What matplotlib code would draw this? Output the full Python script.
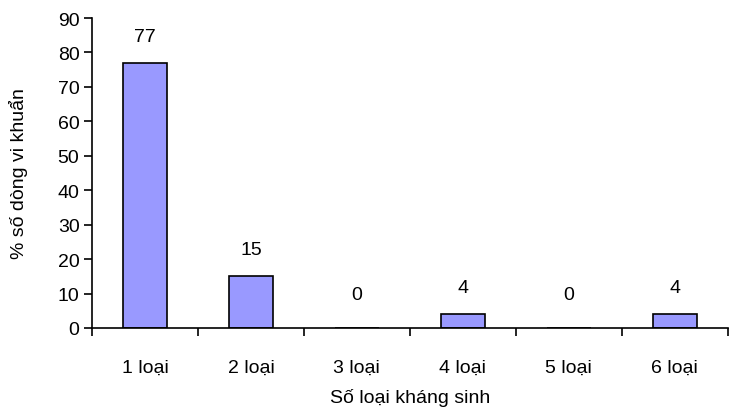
import matplotlib.pyplot as plt
import numpy as np

plt.rcParams['font.family'] = ['Liberation Sans', 'DejaVu Sans']

categories = ['1 loại', '2 loại', '3 loại', '4 loại', '5 loại', '6 loại']
percent = [77, 15, 0, 4, 0, 4]

x = np.arange(len(categories))
fs = 14

fig = plt.figure(figsize=(7.3, 4.1), dpi=100)
ax = fig.add_axes([0.126, 0.1976, 0.871, 0.756])

bars = ax.bar(x, percent, width=0.415, color='#9999FF', edgecolor='black', linewidth=1.2)

for rect, v in zip(bars, percent):
    # empty bars get their label a little higher
    off = 18 if v == 0 else 13
    ax.annotate(f'{v}', xy=(rect.get_x() + rect.get_width() / 2, rect.get_height()),
                xytext=(0, off), textcoords='offset points',
                ha='center', va='bottom', fontsize=fs)

ax.set_xlim(-0.5, len(categories) - 0.5)
ax.set_ylim(0, 90)
ax.set_yticks(np.arange(0, 91, 10))

# category labels in the middle, tick marks on the boundaries
ax.set_xticks(x)
ax.set_xticklabels(categories)
ax.set_xticks(np.arange(-0.5, len(categories)), minor=True)
ax.tick_params(axis='x', which='major', length=0, pad=22, labelsize=fs)
ax.tick_params(axis='x', which='minor', length=6, width=1.2, direction='out')
ax.tick_params(axis='y', length=6, width=1.2, direction='out', pad=3, labelsize=fs)

for side in ('top', 'right'):
    ax.spines[side].set_visible(False)
for side in ('left', 'bottom'):
    ax.spines[side].set_linewidth(1.2)

ax.set_xlabel('Số loại kháng sinh', fontsize=fs, labelpad=9)
ax.set_ylabel('% số dòng vi khuẩn', fontsize=fs, labelpad=21)

fig.savefig('out.png', dpi=100)
